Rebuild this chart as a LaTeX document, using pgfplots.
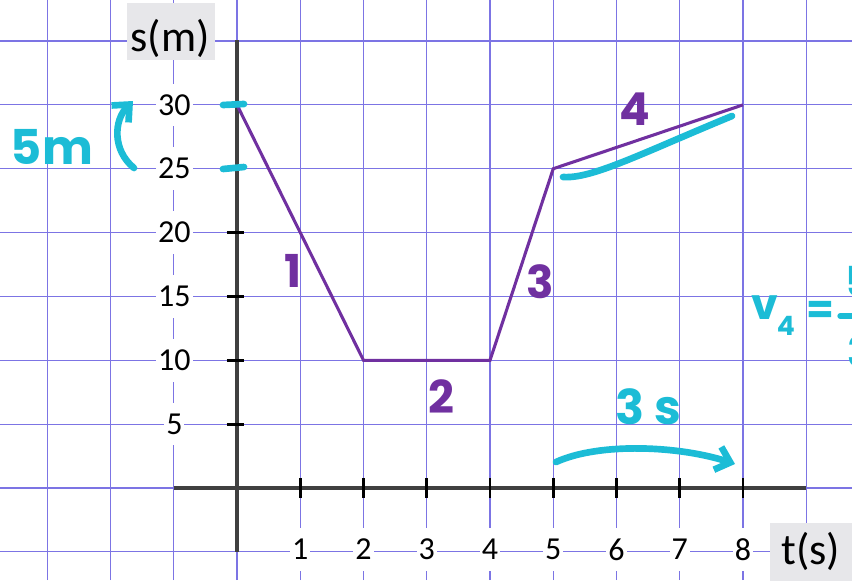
\documentclass[border=0pt]{standalone}
\usepackage{pgfplots}
\pgfplotsset{compat=1.18}
\usetikzlibrary{arrows.meta}
\usepackage{fontspec}
\setmainfont{Carlito}
\newfontfamily\hand{Poppins}

\definecolor{gridblue}{RGB}{124,116,228}
\definecolor{axisgray}{RGB}{64,64,64}
\definecolor{pathpurple}{RGB}{112,48,160}
\definecolor{inkcyan}{RGB}{28,188,214}
\definecolor{titlegray}{RGB}{231,231,234}

\tikzset{ticklab/.style={fill=white, inner xsep=1.5pt, minimum height=32pt,
    font=\fontsize{24}{26}\selectfont}}

\begin{document}
\begin{tikzpicture}
\begin{axis}[
  scale only axis, width=639pt, height=435pt,
  xmin=-3.747, xmax=9.723, ymin=-7.204, ymax=38.21,
  axis line style={draw=none},
  xtick={-3,...,9}, ytick={-5,0,...,35},
  xticklabels={}, yticklabels={},
  major tick length=0pt,
  grid=major,
  grid style={gridblue, line width=0.9pt},
  clip=false,
]
% coordinate axes
\draw[axisgray, line width=3pt] (axis cs:0,-5) -- (axis cs:0,35.1);
\draw[axisgray, line width=3pt] (axis cs:-1,0) -- (axis cs:9,0);
\pgfplotsinvokeforeach{1,...,8}{
  \draw[black, line width=2.2pt] (axis cs:#1,-0.75) -- (axis cs:#1,0.8);
  \node[ticklab] at (axis cs:#1,-4.8) {#1};
}
\pgfplotsinvokeforeach{5,10,...,30}{
  \draw[black, line width=2.2pt] (axis cs:-0.16,#1) -- (axis cs:0.11,#1);
  \node[ticklab] at (axis cs:-0.99,#1) {#1};
}
% position against time
\addplot[pathpurple, line width=2.3pt] coordinates {(0,30) (2,10) (4,10) (5,25) (8,30)};
\end{axis}

\pgfresetboundingbox
\useasboundingbox (current axis.south west) rectangle (current axis.north east);

\begin{scope}[shift={(current axis.north west)}, x=0.75pt, y=-0.75pt]
  % axis titles
  \fill[titlegray] (127,3) rectangle (215,60);
  \node[font=\fontsize{33}{36}\selectfont] at (170,38) {s(m)};
  \fill[titlegray] (770,523) rectangle (860,585);
  \node[font=\fontsize{33}{36}\selectfont] at (811,551) {t(s)};

  % segment numbers
  \begin{scope}[every node/.style={text=pathpurple, font=\hand\bfseries\fontsize{34}{36}\selectfont}]
    \node at (293,271) {1};
    \node at (441,397) {2};
    \node at (540,282) {3};
    \node at (635,109) {4};
  \end{scope}

  % notes
  \begin{scope}[inkcyan, line width=5pt, line cap=round,
      every node/.style={text=inkcyan, font=\hand\bfseries\fontsize{36}{38}\selectfont}]
    \draw (223,105) -- (244,104);
    \draw (223,169) -- (244,167);
    \node at (52,147) {5m};
    \draw[-{Straight Barb[length=10pt, width=18pt]}] (134,168) .. controls (112,150) and (114,120) .. (133,101);
    \draw (563,177) .. controls (592,179) and (640,154) .. (732,116);
    \node at (648,407) {3 s};
    \draw[-{Straight Barb[length=10pt, width=18pt]}] (556,462) .. controls (600,442) and (680,446) .. (735,464);
    \node[font=\hand\bfseries\fontsize{32}{34}\selectfont] at (765,308) {v};
    \node[font=\hand\bfseries\fontsize{20}{22}\selectfont] at (786,326) {4};
    \node[font=\hand\bfseries\fontsize{30}{32}\selectfont] at (820,312) {=};
    \node[anchor=west, font=\hand\bfseries\fontsize{32}{34}\selectfont] at (838,282) {5m};
    \draw[line width=4pt] (840,316) -- (900,316);
    \node[anchor=west, font=\hand\bfseries\fontsize{32}{34}\selectfont] at (840,352) {3s};
  \end{scope}
\end{scope}
\end{tikzpicture}
\end{document}
